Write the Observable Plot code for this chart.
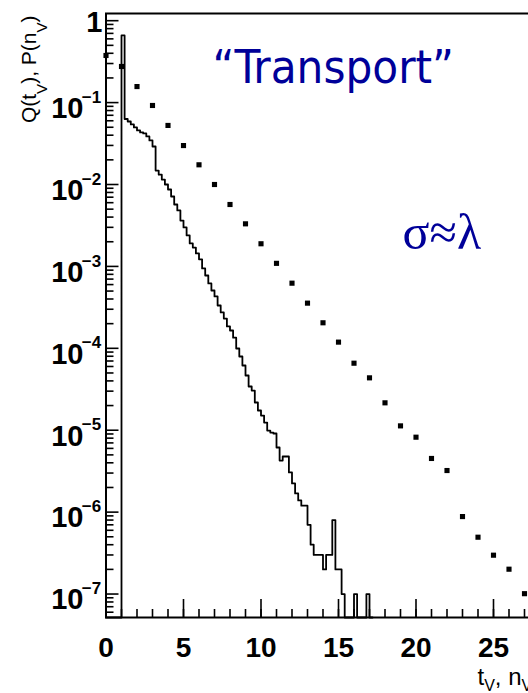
<!DOCTYPE html>
<html><head><meta charset="utf-8">
<script src="https://cdn.jsdelivr.net/npm/d3@7"></script>
<script src="https://cdn.jsdelivr.net/npm/@observablehq/plot@0.6"></script>
<style>
html,body{margin:0;padding:0;background:#fff;overflow:hidden;}
#wrap{width:528px;height:693px;overflow:hidden;position:relative;background:#fff;}
#wrap svg{display:block;max-width:none;}
</style></head><body><div id="wrap"></div>
<script>
// ---------------- data ----------------
// dots: P(n_V) at integer n_V
const nV = [0,1,2,3,4,5,6,7,8,9,10,11,12,13,14,15,16,17,18,19,20,21,22,23,24,25,26,27];
const P = [0.376,0.276,0.157,0.0922,0.0526,0.0299,0.0174,0.0100,0.0057,0.00331,0.00189,0.00109,
           6.24e-4,3.56e-4,2.05e-4,1.19e-4,6.58e-5,4.36e-5,2.16e-5,1.13e-5,8.22e-6,4.52e-6,3.22e-6,
           8.83e-7,4.94e-7,2.98e-7,2.01e-7,1.01e-7];
// histogram Q(t_V): bins of width 0.2 starting at t=0
const histBinWidth = 0.2;
const histValues = [0,0,0,0,0,0.66,
  0.0631,0.0588,0.0541,0.0497,0.0457,0.0432,0.0420,0.0386,0.0345,0.0291,
  0.0148,0.0132,0.0115,0.0100,0.00869,0.00714,0.00570,0.00482,0.00363,0.00299,
  0.00239,0.00191,0.00170,0.00144,0.00122,0.000944,0.000775,0.000619,0.000508,0.000430,
  0.000333,0.000274,0.000231,0.000185,0.000165,0.000135,9.95e-5,7.94e-5,6.17e-5,4.66e-5,
  3.42e-5,3.05e-5,2.18e-5,1.74e-5,1.51e-5,1.24e-5,9.91e-6,9.37e-6,9.12e-6,6.15e-6,
  4.26e-6,4.78e-6,4.78e-6,3.05e-6,2.24e-6,1.69e-6,1.39e-6,1.20e-6,1.20e-6,7e-7,
  4e-7,3e-7,3e-7,3e-7,2e-7,3e-7,3e-7,8e-7,2e-7,2e-7,
  1e-7,0,0,0,1e-7,0,0,0,1e-7,0];
const xMajorTicks = [0,5,10,15,20,25];
const xTickLabels = ["0","5","10","15","20","25"];
const yMajorTicks = [1,1e-1,1e-2,1e-3,1e-4,1e-5,1e-6,1e-7];
const yTickBase = ["1","10","10","10","10","10","10","10"];
const yTickExp  = ["","\u22121","\u22122","\u22123","\u22124","\u22125","\u22126","\u22127"];
const xDomain = [0, 30];
const yDomain = [5.17e-8, 1.224];
const titleText = "\u201CTransport\u201D";
const noteText = "\u03C3\u2248\u03BB";
const yLabel = "Q(t_V), P(n_V)";
const xLabel = "t_V, n_V";

// ---------------- layout ----------------
const W = 592, H = 693, mL = 105.5, mR = 21.5, mT = 13, mB = 76;
const frameW = W - mL - mR, frameH = H - mT - mB;
const blue = "#000099";
const sans = "'Liberation Sans', Arial, Helvetica, sans-serif";

const points = nV.map((n, i) => ({n, p: P[i]}));
const hist = histValues.map((v, i) => ({x: i * histBinWidth, v}));
hist.push({x: histValues.length * histBinWidth, v: histValues[histValues.length - 1]});

const isDecade = v => Math.abs(Math.log10(v) - Math.round(Math.log10(v))) < 1e-9;
const yMinor = d3.scaleLog().domain(yDomain).ticks().filter(v => !isDecade(v));
const xMinor = d3.range(xDomain[0], xDomain[1] + 1);
const yLab = yMajorTicks.map((v, i) => ({v, base: yTickBase[i], exp: yTickExp[i]}));
const xLab = xMajorTicks.map((v, i) => ({v, label: xTickLabels[i]}));

const chart = Plot.plot({
  width: W, height: H,
  marginLeft: mL, marginRight: mR, marginTop: mT, marginBottom: mB,
  style: {fontFamily: sans, background: "white", overflow: "visible", maxWidth: "none"},
  x: {type: "linear", domain: xDomain, axis: null},
  y: {type: "log", domain: yDomain, axis: null},
  marks: [
    Plot.line(hist, {x: "x", y: d => Math.max(d.v, yDomain[0]), curve: "step-after",
      stroke: "black", strokeWidth: 1.8}),
    Plot.dot(points, {x: "n", y: "p", symbol: "square", r: 2.9, fill: "black"}),
    Plot.tickY(yMinor, {y: d => d, insetRight: frameW - 8, stroke: "black", strokeWidth: 1.6}),
    Plot.tickY(yMajorTicks, {y: d => d, insetRight: frameW - 13, stroke: "black", strokeWidth: 1.6}),
    Plot.tickX(xMinor, {x: d => d, insetTop: frameH - 8, stroke: "black", strokeWidth: 1.6}),
    Plot.tickX(xMajorTicks, {x: d => d, insetTop: frameH - 18, stroke: "black", strokeWidth: 1.6}),
    Plot.frame({stroke: "black", strokeWidth: 2}),
    // y tick labels
    Plot.text(yLab.filter(d => d.exp === ""), {y: "v", text: "base", frameAnchor: "left",
      textAnchor: "end", dx: -3.5, dy: 2.5, fontSize: 29, fontWeight: "bold"}),
    Plot.text(yLab.filter(d => d.exp !== ""), {y: "v", text: "base", frameAnchor: "left",
      textAnchor: "end", dx: -22.5, dy: 6, fontSize: 29, fontWeight: "bold"}),
    Plot.text(yLab.filter(d => d.exp !== ""), {y: "v", text: "exp", frameAnchor: "left",
      textAnchor: "end", dx: -4.8, dy: -5.3, fontSize: 17, fontWeight: "bold"}),
    // x tick labels
    Plot.text(xLab, {x: "v", text: "label", frameAnchor: "bottom", lineAnchor: "top",
      dy: 20, fontSize: 28, fontWeight: "bold"}),
    // annotations
    Plot.text([titleText], {text: d => d, frameAnchor: "top-left", textAnchor: "start",
      lineAnchor: "bottom", dx: 106.5, dy: 69, fontSize: 47, fill: blue,
      fontFamily: "'DejaVu Sans Condensed', Tahoma, 'DejaVu Sans', sans-serif"}),
    Plot.text([noteText], {text: d => d, frameAnchor: "top-left", textAnchor: "start",
      lineAnchor: "bottom", dx: 296.5, dy: 235, fontSize: 50, fill: blue,
      fontFamily: "'Liberation Serif', 'Times New Roman', serif"}),
    // axis titles
    Plot.text([yLabel], {text: d => d, frameAnchor: "top-left", rotate: -90, textAnchor: "end",
      lineAnchor: "bottom", dx: -70, dy: 2, fontSize: 21}),
    Plot.text([xLabel], {text: d => d, frameAnchor: "bottom-left", textAnchor: "start",
      lineAnchor: "bottom", dx: 371.5, dy: 67, fontSize: 24})
  ]
});

// subscripts for the axis titles
function subscriptify(svg, raw, subSize, shift) {
  const ns = "http://www.w3.org/2000/svg";
  for (const t of svg.querySelectorAll("text")) {
    if (t.textContent !== raw) continue;
    t.textContent = "";
    const parts = raw.split(/_(\w)/);
    let down = false;
    parts.forEach((s, i) => {
      if (!s) return;
      const ts = document.createElementNS(ns, "tspan");
      ts.textContent = s;
      if (i % 2 === 1) { ts.setAttribute("font-size", subSize); ts.setAttribute("dy", shift); down = true; }
      else if (down) { ts.setAttribute("dy", -shift); down = false; }
      t.appendChild(ts);
    });
  }
}
subscriptify(chart, yLabel, 15, 11);
subscriptify(chart, xLabel, 16, 6);

document.getElementById("wrap").appendChild(chart);
</script></body></html>
